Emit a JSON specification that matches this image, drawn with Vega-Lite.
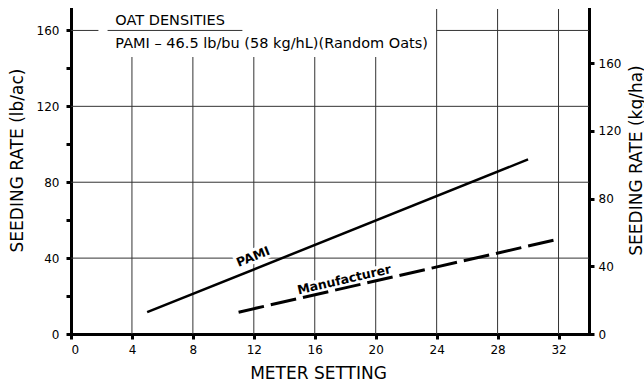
{
  "$schema": "https://vega.github.io/schema/vega-lite/v6.json",
  "width": 518,
  "height": 325,
  "autosize": {"type": "none"},
  "padding": {"left": 71, "top": 9, "right": 55, "bottom": 49},
  "background": "white",
  "config": {
    "view": {"stroke": null},
    "text": {"font": "DejaVu Sans", "color": "black"},
    "axis": {
      "domainColor": "black", "domainWidth": 3, "domainCap": "square",
      "tickColor": "black", "tickWidth": 3, "tickSize": 5,
      "labelColor": "black", "labelFont": "DejaVu Sans", "labelFontSize": 12,
      "titleColor": "black", "titleFont": "DejaVu Sans", "titleFontSize": 17, "titleFontWeight": "normal",
      "grid": false
    }
  },
  "datasets": {
    "lines": [
      {"series": "PAMI", "setting": 5, "rate": 11.5},
      {"series": "PAMI", "setting": 30, "rate": 92},
      {"series": "Manufacturer", "setting": 11, "rate": 11.5},
      {"series": "Manufacturer", "setting": 32, "rate": 50}
    ],
    "hgrid": [
      {"rate": 40, "from": 0, "to": 34},
      {"rate": 80, "from": 0, "to": 34},
      {"rate": 120, "from": 0, "to": 34},
      {"rate": 160, "from": 0, "to": 1.8},
      {"rate": 160, "from": 2.4, "to": 11.25},
      {"rate": 160, "from": 24, "to": 34}
    ],
    "vgrid": [
      {"setting": 4, "low": 0, "high": 146},
      {"setting": 8, "low": 0, "high": 146},
      {"setting": 12, "low": 0, "high": 146},
      {"setting": 16, "low": 0, "high": 146},
      {"setting": 20, "low": 0, "high": 146},
      {"setting": 24, "low": 0, "high": 171.3},
      {"setting": 28, "low": 0, "high": 171.3},
      {"setting": 32, "low": 0, "high": 171.3}
    ],
    "labels": [
      {"label": "PAMI", "setting": 11.96, "rate": 40.7},
      {"label": "Manufacturer", "setting": 17.93, "rate": 28.6}
    ],
    "notes": [
      {"note": "OAT DENSITIES", "setting": 2.91, "rate": 164.8},
      {"note": "PAMI – 46.5 lb/bu (58 kg/hL)(Random Oats)", "setting": 2.91, "rate": 153}
    ],
    "kgha": [
      {"kg": 0}, {"kg": 192}
    ]
  },
  "layer": [
    {
      "layer": [
        {
          "data": {"name": "hgrid"},
          "mark": {"type": "rule", "color": "#333333", "strokeWidth": 1},
          "encoding": {
            "x": {
              "field": "from", "type": "quantitative",
              "scale": {"domain": [0, 34], "nice": false, "zero": false},
              "axis": {
                "title": "METER SETTING",
                "values": [0, 2, 4, 6, 8, 10, 12, 14, 16, 18, 20, 22, 24, 26, 28, 30, 32],
                "labelExpr": "datum.value % 4 === 0 ? datum.label : ''",
                "labelPadding": 5,
                "titleX": 247, "titleY": 39, "titleAlign": "center", "titleBaseline": "middle"
              }
            },
            "x2": {"field": "to"},
            "y": {
              "field": "rate", "type": "quantitative",
              "scale": {"domain": [0, 171.3], "nice": false, "zero": false},
              "axis": {
                "title": "SEEDING RATE (lb/ac)",
                "values": [0, 20, 40, 60, 80, 100, 120, 140, 160],
                "labelExpr": "datum.value % 40 === 0 ? datum.label : ''",
                "labelPadding": 7,
                "titleAngle": 270, "titleX": -54, "titleY": 151, "titleAlign": "center", "titleBaseline": "middle"
              }
            }
          }
        },
        {
          "data": {"name": "vgrid"},
          "mark": {"type": "rule", "color": "#333333", "strokeWidth": 1},
          "encoding": {
            "x": {"field": "setting", "type": "quantitative", "scale": {"domain": [0, 34], "nice": false, "zero": false}},
            "y": {"field": "low", "type": "quantitative", "scale": {"domain": [0, 171.3], "nice": false, "zero": false}},
            "y2": {"field": "high"}
          }
        },
        {
          "data": {"name": "labels"},
          "transform": [{"filter": "datum.label === 'PAMI'"}],
          "mark": {"type": "text", "angle": 338, "fontSize": 12.5, "fontWeight": "bold", "fill": "white", "stroke": "white", "strokeWidth": 6, "align": "center", "baseline": "middle"},
          "encoding": {
            "x": {"field": "setting", "type": "quantitative", "scale": {"domain": [0, 34], "nice": false, "zero": false}},
            "y": {"field": "rate", "type": "quantitative", "scale": {"domain": [0, 171.3], "nice": false, "zero": false}},
            "text": {"field": "label"}
          }
        },
        {
          "data": {"name": "labels"},
          "transform": [{"filter": "datum.label === 'Manufacturer'"}],
          "mark": {"type": "text", "angle": 347, "fontSize": 12.5, "fontWeight": "bold", "fill": "white", "stroke": "white", "strokeWidth": 6, "align": "center", "baseline": "middle"},
          "encoding": {
            "x": {"field": "setting", "type": "quantitative", "scale": {"domain": [0, 34], "nice": false, "zero": false}},
            "y": {"field": "rate", "type": "quantitative", "scale": {"domain": [0, 171.3], "nice": false, "zero": false}},
            "text": {"field": "label"}
          }
        },
        {
          "data": {"name": "lines"},
          "transform": [{"filter": "datum.series === 'PAMI'"}],
          "mark": {"type": "line", "color": "black", "strokeWidth": 2.5},
          "encoding": {
            "x": {"field": "setting", "type": "quantitative", "scale": {"domain": [0, 34], "nice": false, "zero": false}},
            "y": {"field": "rate", "type": "quantitative", "scale": {"domain": [0, 171.3], "nice": false, "zero": false}}
          }
        },
        {
          "data": {"name": "lines"},
          "transform": [{"filter": "datum.series === 'Manufacturer'"}],
          "mark": {"type": "line", "color": "black", "strokeWidth": 3, "strokeDash": [26, 7]},
          "encoding": {
            "x": {"field": "setting", "type": "quantitative", "scale": {"domain": [0, 34], "nice": false, "zero": false}},
            "y": {"field": "rate", "type": "quantitative", "scale": {"domain": [0, 171.3], "nice": false, "zero": false}}
          }
        },
        {
          "data": {"name": "labels"},
          "transform": [{"filter": "datum.label === 'PAMI'"}],
          "mark": {"type": "text", "angle": 338, "fontSize": 12.5, "fontWeight": "bold", "align": "center", "baseline": "middle"},
          "encoding": {
            "x": {"field": "setting", "type": "quantitative", "scale": {"domain": [0, 34], "nice": false, "zero": false}},
            "y": {"field": "rate", "type": "quantitative", "scale": {"domain": [0, 171.3], "nice": false, "zero": false}},
            "text": {"field": "label"}
          }
        },
        {
          "data": {"name": "labels"},
          "transform": [{"filter": "datum.label === 'Manufacturer'"}],
          "mark": {"type": "text", "angle": 347, "fontSize": 12.5, "fontWeight": "bold", "align": "center", "baseline": "middle"},
          "encoding": {
            "x": {"field": "setting", "type": "quantitative", "scale": {"domain": [0, 34], "nice": false, "zero": false}},
            "y": {"field": "rate", "type": "quantitative", "scale": {"domain": [0, 171.3], "nice": false, "zero": false}},
            "text": {"field": "label"}
          }
        },
        {
          "data": {"name": "notes"},
          "mark": {"type": "text", "fontSize": 14.5, "align": "left", "baseline": "middle"},
          "encoding": {
            "x": {"field": "setting", "type": "quantitative", "scale": {"domain": [0, 34], "nice": false, "zero": false}},
            "y": {"field": "rate", "type": "quantitative", "scale": {"domain": [0, 171.3], "nice": false, "zero": false}},
            "text": {"field": "note"}
          }
        }
      ]
    },
    {
      "data": {"name": "kgha"},
      "mark": {"type": "point", "opacity": 0},
      "encoding": {
        "y": {
          "field": "kg", "type": "quantitative",
          "scale": {"domain": [0, 192], "nice": false, "zero": false},
          "axis": {
            "orient": "right",
            "title": "SEEDING RATE (kg/ha)",
            "values": [0, 40, 80, 120, 160],
            "labelPadding": 4,
            "titleAngle": 270, "titleX": 47, "titleY": 151, "titleAlign": "center", "titleBaseline": "middle"
          }
        }
      }
    }
  ],
  "resolve": {"scale": {"y": "independent"}}
}
